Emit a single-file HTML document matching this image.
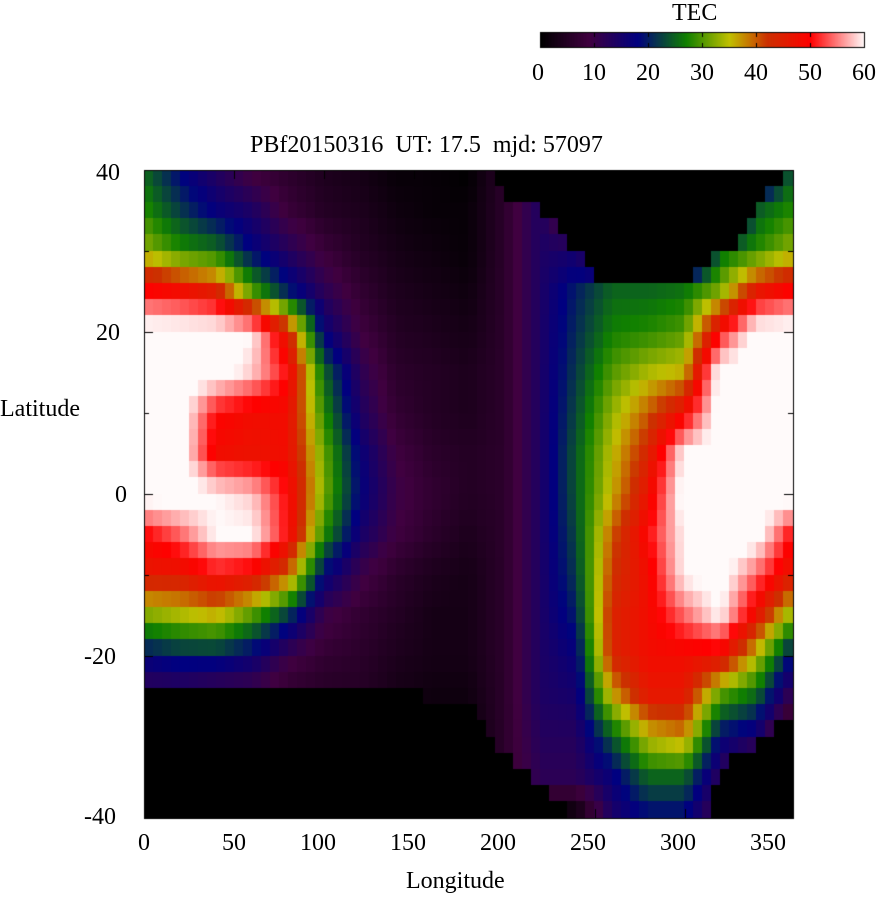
<!DOCTYPE html><html><head><style>
body{margin:0;background:#fff;width:878px;height:900px;position:relative;overflow:hidden;font-family:"Liberation Serif",serif;}
.t{position:absolute;font-size:24px;color:#000;white-space:nowrap;}
canvas{position:absolute;left:0;top:0}
</style></head><body>
<canvas id="c" width="878" height="900"></canvas>
<div class="t" style="left:672px;top:0px">TEC</div>
<div class="t" style="left:532px;top:60px">0</div>
<div class="t" style="left:582px;top:60px">10</div>
<div class="t" style="left:636px;top:60px">20</div>
<div class="t" style="left:690px;top:60px">30</div>
<div class="t" style="left:744px;top:60px">40</div>
<div class="t" style="left:798px;top:60px">50</div>
<div class="t" style="left:852px;top:60px">60</div>
<div class="t" style="left:250px;top:132px">PBf20150316&nbsp; UT: 17.5&nbsp; mjd: 57097</div>
<div class="t" style="left:96px;top:160px">40</div>
<div class="t" style="left:96px;top:320px">20</div>
<div class="t" style="left:115px;top:482px">0</div>
<div class="t" style="left:84px;top:644px">-20</div>
<div class="t" style="left:84px;top:804px">-40</div>
<div class="t" style="left:0px;top:396px">Latitude</div>
<div class="t" style="left:138px;top:830px">0</div>
<div class="t" style="left:222px;top:830px">50</div>
<div class="t" style="left:300px;top:830px">100</div>
<div class="t" style="left:390px;top:830px">150</div>
<div class="t" style="left:480px;top:830px">200</div>
<div class="t" style="left:570px;top:830px">250</div>
<div class="t" style="left:660px;top:830px">300</div>
<div class="t" style="left:750px;top:830px">350</div>
<div class="t" style="left:406px;top:868px">Longitude</div>
<script>
(function(){
var c=document.getElementById('c').getContext('2d');
var stops=[[0,[0,0,0]],[9,[64,0,64]],[18,[0,0,128]],[27,[16,128,0]],[35,[192,192,0]],[42,[204,48,0]],[50,[255,0,0]],[60,[255,250,250]]];
function col(v){v=Math.max(0,Math.min(60,v));for(var i=1;i<stops.length;i++){if(v<=stops[i][0]){var a=stops[i-1],b=stops[i],f=(v-a[0])/(b[0]-a[0]);return 'rgb('+[0,1,2].map(function(k){return Math.round(a[1][k]+(b[1][k]-a[1][k])*f)}).join(',')+')';}}return '#fff';}
var T=[
[25,28,33,50,62,62,62,62,62,50,46,32,18,10,0,0,0],
[18,22,28,48,62,62,62,62,62,54,46,34,20,10,0,0,0],
[13,17,26,45,62,62,50,48,60,60,50,36,20,8,0,0,0],
[8,14,18,30,60,58,48,47,58,60,48,30,17,8,0,0,0],
[6,8,13,20,45,50,48,48,50,50,40,22,10,6,0,0,0],
[4,5,8,12,17,25,28,31,32,28,18,10,7,5,0,0,0],
[3,4,5,7,9,12,14,17,18,15,10,7,6,5,0,0,0],
[1,2,3,4,5,6,7,9,10,9,6,5,4,3,0,0,0],
[1,1,2,3,4,5,5,6,7,6,4,3,3,2,0,0,0],
[0,1,1,2,3,4,4,5,5,4,3,3,3,2,1,0,0],
[6,6,6,6,6,6,6,6,6,6,6,6,6,6,6,6,0],
[14,14,14,14,14,14,14,14,14,14,14,14,14,14,13,12,0],
[0,0,15,20,21,22,23,24,24,23,22,20,17,15,13,12,0],
[0,0,0,25,27,30,33,35,36,40,42,44,44,36,24,17,14],
[0,0,0,25,28,34,40,44,47,50,48,48,48,46,35,25,18],
[0,0,0,26,30,36,48,60,62,60,60,54,48,46,38,25,18],
[0,0,25,32,50,62,62,62,62,62,62,60,48,30,18,12,8],
[8,24,28,46,62,62,62,62,62,62,54,47,35,25,15,0,0],
[25,28,33,50,62,62,62,62,62,50,46,32,18,10,0,0,0]];
function interp(pts,x){for(var i=1;i<pts.length;i++){if(x<=pts[i][0]){var a=pts[i-1],b=pts[i];return a[1]+(b[1]-a[1])*(x-a[0])/(b[0]-a[0]);}}return pts[pts.length-1][1];}
var botB=[[0,-25],[80,-24],[130,-24],[180,-26],[190,-29],[200,-32],[215,-35],[230,-38],[240,-41],[310,-41],[320,-34],[340,-31],[360,-27]];
var topB=[[0,41],[190,41],[200,37],[220,35],[230,33],[240,30],[250,26],[300,26],[310,28],[330,31],[340,35],[350,38],[360,41]];
function val(lon,lat){if(lat<interp(botB,lon)||lat>interp(topB,lon))return 0;
var fi=lon/20,i=Math.min(17,Math.floor(fi)),fx=fi-i;var fj=(40-lat)/5,j=Math.min(15,Math.floor(fj)),fy=fj-j;
var a=T[i][j],b=T[i+1][j],cc=T[i][j+1],d=T[i+1][j+1];return a*(1-fx)*(1-fy)+b*fx*(1-fy)+cc*(1-fx)*fy+d*fx*fy;}
var x0=144,x1=793,y0=170,y1=818;
for(var lon=0;lon<360;lon+=5){for(var lat=40;lat>-40;lat-=2){
var v=val(lon+2.5,lat-1);c.fillStyle=col(v);
var xa=x0+(lon/360)*(x1-x0),xb=x0+((lon+5)/360)*(x1-x0),ya=y0+((40-lat)/80)*(y1-y0),yb=y0+((40-lat+2)/80)*(y1-y0);
c.fillRect(Math.floor(xa),Math.floor(ya),Math.ceil(xb)-Math.floor(xa),Math.ceil(yb)-Math.floor(ya));}}
c.strokeStyle='#000';c.lineWidth=1;c.strokeRect(x0+.5,y0+.5,x1-x0,y1-y0);
c.beginPath();
for(var k=0;k<=7;k++){var x=Math.round(x0+k*50/360*(x1-x0))+.5;c.moveTo(x,y1);c.lineTo(x,y1-9);c.moveTo(x,y0);c.lineTo(x,y0+9);}
for(var k=0;k<=8;k++){var y=Math.round(y0+k*10/80*(y1-y0))+.5;var L=k%2==0?9:5;c.moveTo(x0,y);c.lineTo(x0+L,y);c.moveTo(x1,y);c.lineTo(x1-L,y);}
c.stroke();
for(var px=540;px<864;px++){c.fillStyle=col((px-540)/324*60);c.fillRect(px,33,1,14);}
c.strokeRect(540.5,32.5,324,15);
c.beginPath();for(var k=0;k<=6;k++){var x=Math.round(540+k*54)+.5;c.moveTo(x,33);c.lineTo(x,37);c.moveTo(x,47);c.lineTo(x,43);}c.stroke();
})();
</script>
</body></html>
